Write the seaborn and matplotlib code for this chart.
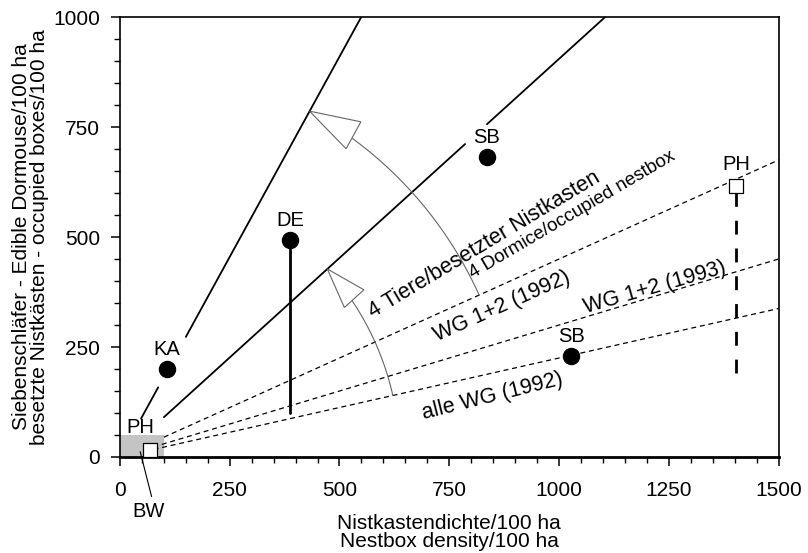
import numpy as np
import pandas as pd
import matplotlib.pyplot as plt
import seaborn as sns
from matplotlib.patches import Rectangle, Polygon
from matplotlib.ticker import MultipleLocator

# sites shown as filled dots
site_names = ['KA', 'DE', 'SB', 'SB']
site_x = [107, 387, 836, 1028]
site_y = [200, 493, 682, 230]

# PH (open squares) and ranges
ph_x = [68, 1404]
ph_y = [16, 616]
de_range = [100, 493]
ph_range = [190, 600]

# reference lines through origin: slope, x segments
solid_slopes = [1.82, 0.905]
solid_segments = [[(48, 87), (150, 550)], [(100, 786), (836, 1105)]]
dashed_slopes = [0.45, 0.30, 0.225]
dashed_start = [100, 57, 57]

# arcs: radius, from slope, to slope
arc_radius = [637, 897]
arc_from = [0.225, 0.45]
arc_to = [0.905, 1.82]

sns.set_theme(style='ticks')
plt.rcParams['font.family'] = ['Liberation Sans', 'DejaVu Sans']
for k in ['text.color', 'axes.labelcolor', 'xtick.color', 'ytick.color']:
    plt.rcParams[k] = 'black'

fig = plt.figure(figsize=(8.08, 5.53), dpi=100)
ax = fig.add_axes([0.1485, 0.1736, 0.815, 0.7955])

ax.add_patch(Rectangle((0, 0), 100, 50, fc='#c4c4c4', ec='none', zorder=0))

for s, segs in zip(solid_slopes, solid_segments):
    for x0, x1 in segs:
        ax.plot([x0, x1], [s * x0, s * x1], color='black', lw=1.3, zorder=2)

for s, x0 in zip(dashed_slopes, dashed_start):
    ax.plot([x0, 1500], [s * x0, s * 1500], color='black', lw=0.9,
            ls=(0, (4, 3)), zorder=2)

# range bars
ax.plot([site_x[1], site_x[1]], de_range, color='black', lw=2, zorder=2)
ax.plot([ph_x[1], ph_x[1]], ph_range, color='black', lw=2,
        ls=(0, (5, 5)), zorder=2)

# arcs with open arrow heads
for r, a0, a1, L, hw in zip(arc_radius, arc_from, arc_to, [91, 114], [30, 35]):
    t0, t1 = np.arctan(a0), np.arctan(a1)
    t = np.linspace(t0, t1 - L / r, 60)
    ax.plot(r * np.cos(t), r * np.sin(t), color='#666666', lw=0.8, zorder=2)
    tip = np.array([r * np.cos(t1), r * np.sin(t1)])
    tang = np.array([-np.sin(t1), np.cos(t1)])
    nrm = np.array([np.cos(t1), np.sin(t1)])
    base = tip - L * tang
    ax.add_patch(Polygon([tip, base + hw * nrm, base - hw * nrm],
                         closed=True, fc='white', ec='#666666', lw=0.8, zorder=3))

df = pd.DataFrame({'x': site_x, 'y': site_y, 'name': site_names})
sns.scatterplot(data=df, x='x', y='y', s=135, color='black', edgecolor='black',
                ax=ax, zorder=4, legend=False)
sns.scatterplot(x=ph_x, y=ph_y, marker='s', s=100, facecolor='white',
                edgecolor='black', linewidth=0.9, ax=ax, zorder=4)

fs = 14.5
for n, x, y in zip(site_names, site_x, site_y):
    ax.text(x, y + 45, n, ha='center', va='center', fontsize=fs)
ax.text(ph_x[1], ph_y[0] + 650, 'PH', ha='center', va='center', fontsize=fs)
ax.text(46, 68, 'PH', ha='center', va='center', fontsize=fs)
ax.text(64, -125, 'BW', ha='center', va='center', fontsize=fs, clip_on=False)
ax.plot([46, 72], [12, -90], color='black', lw=0.8, clip_on=False)

ax.text(829, 482, '4 Tiere/besetzter Nistkasten', rotation=31,
        ha='center', va='center', fontsize=15.5, rotation_mode='anchor')
ax.text(1031, 550, '4 Dormice/occupied nestbox', rotation=30.5,
        ha='center', va='center', fontsize=13.5, rotation_mode='anchor')
ax.text(871, 342, 'WG 1+2 (1992)', rotation=24, ha='center', va='center',
        fontsize=15.5, rotation_mode='anchor')
ax.text(1219, 384, 'WG 1+2 (1993)', rotation=16, ha='center', va='center',
        fontsize=15.5, rotation_mode='anchor')
ax.text(849, 139, 'alle WG (1992)', rotation=14, ha='center', va='center',
        fontsize=15.5, rotation_mode='anchor')

ax.set_xlim(0, 1500)
ax.set_ylim(0, 1000)
ax.xaxis.set_major_locator(MultipleLocator(250))
ax.xaxis.set_minor_locator(MultipleLocator(50))
ax.yaxis.set_major_locator(MultipleLocator(250))
ax.yaxis.set_minor_locator(MultipleLocator(50))
ax.tick_params(which='major', direction='out', length=6.5, width=1.1,
               labelsize=15, color='black')
ax.tick_params(which='minor', direction='out', length=4.5, width=1, color='black')
ax.tick_params(axis='x', which='major', pad=11)
ax.tick_params(axis='y', which='major', pad=8)
for sp in ax.spines.values():
    sp.set_linewidth(1.2)
    sp.set_color('black')
ax.spines['bottom'].set_linewidth(2)

ax.set_xlabel('Nistkastendichte/100 ha\nNestbox density/100 ha', fontsize=15,
              linespacing=0.95, labelpad=10)
ax.set_ylabel('Siebenschläfer - Edible Dormouse/100 ha\n'
              'besetzte Nistkästen - occupied boxes/100 ha', fontsize=15,
              linespacing=0.95, labelpad=3)

fig.savefig('out.png', dpi=100)
